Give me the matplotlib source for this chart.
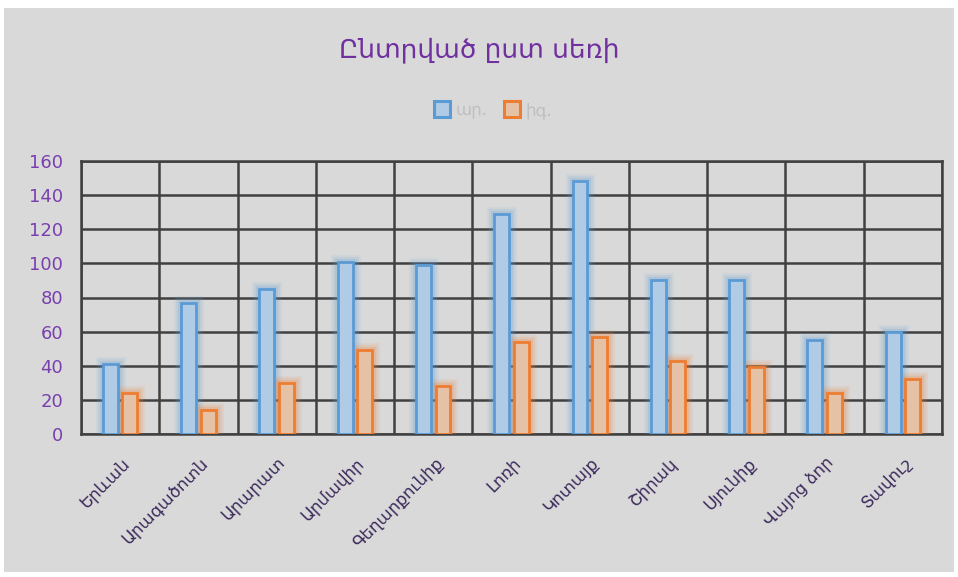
import matplotlib
matplotlib.use("Agg")
import matplotlib.pyplot as plt
from matplotlib.patches import Rectangle
from matplotlib.lines import Line2D
import numpy as np

plt.rcParams['font.family'] = ['DejaVu Sans']

categories = ["Երևան", "Արագածոտն", "Արարատ", "Արմավիր", "Գեղարքունիք", "Լոռի",
              "Կոտայք", "Շիրակ", "Սյունիք", "Վայոց ձոր", "Տավուշ"]
male = [41, 77, 85, 101, 99, 129, 148, 90, 90, 55, 60]
female = [24, 14, 30, 49, 28, 54, 57, 43, 39, 24, 32]
series_names = ["ար.", "իգ."]
title = "Ընտրված ըստ սեռի"
yticks = [0, 20, 40, 60, 80, 100, 120, 140, 160]

fig = plt.figure(figsize=(9.58, 5.77), dpi=100)
fig.patch.set_facecolor("white")
fig.add_artist(Rectangle((4/958, 5/577), 950/958, 564/577, transform=fig.transFigure,
                         facecolor="#D9D9D9", edgecolor="none", zorder=-10))

ax = fig.add_axes([81/958, 1-434/577, (942-81)/958, (434-161)/577])
ax.set_facecolor("#D9D9D9")

x = np.arange(len(categories))
bw = 0.19
off = 0.125
blue_edge, blue_fill = "#5B9BD5", "#AFCBE6"
or_edge, or_fill = "#ED7D31", "#E5C2A6"

for vals, xo, ec, fc in [(male, -off, blue_edge, blue_fill), (female, off, or_edge, or_fill)]:
    # glow
    for lw, a in [(11, 0.08), (8, 0.12), (5, 0.18)]:
        ax.bar(x + xo, vals, width=bw, facecolor="none", edgecolor=ec, linewidth=lw,
               alpha=a, zorder=3)
    ax.bar(x + xo, vals, width=bw, facecolor=fc, edgecolor=ec, linewidth=2, zorder=4)

ax.set_xlim(-0.5, len(categories) - 0.5)
ax.set_ylim(0, 160)
ax.set_yticks(yticks)
ax.set_xticks(x)
ax.set_xticks(np.arange(-0.5, len(categories), 1.0), minor=True)
ax.set_xticklabels(categories, rotation=45, ha="right", rotation_mode="anchor",
                   fontsize=12, color="#3C2A5C")
ax.tick_params(axis="x", which="both", length=0, pad=14)
ax.tick_params(axis="y", length=0, labelsize=13, labelcolor="#7A3FAF", pad=13)
ax.grid(axis="y", which="major", color="#404040", linewidth=1.8, zorder=1)
ax.grid(axis="x", which="minor", color="#404040", linewidth=1.8, zorder=1)
ax.set_axisbelow(True)
for s in ax.spines.values():
    s.set_color("#404040")
    s.set_linewidth(1.8)

fig.text(0.5, 1-50/577, title, ha="center", va="center", fontsize=19, color="#7030A0")

handles = [Line2D([], [], marker="s", linestyle="none", markersize=11, markerfacecolor=blue_fill,
                  markeredgecolor=blue_edge, markeredgewidth=2.2),
           Line2D([], [], marker="s", linestyle="none", markersize=11, markerfacecolor=or_fill,
                  markeredgecolor=or_edge, markeredgewidth=2.2)]
leg = fig.legend(handles, series_names, loc="center", bbox_to_anchor=(493/958, 1-110/577), ncol=2,
                 frameon=False, fontsize=12, handletextpad=0.3, columnspacing=1.0,
                 handlelength=1.0)
for t in leg.get_texts():
    t.set_color("#BFBFBF")

fig.savefig("out.png", dpi=100, facecolor="white")
